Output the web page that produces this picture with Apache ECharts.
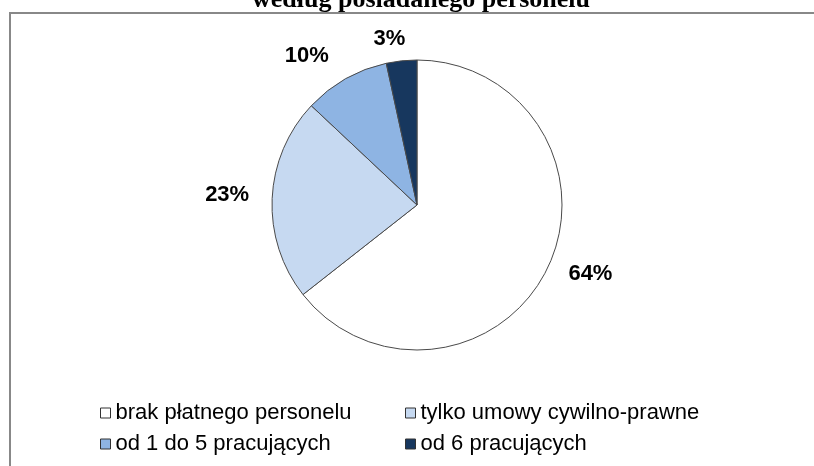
<!DOCTYPE html>
<html>
<head>
<meta charset="utf-8">
<script src="https://cdn.jsdelivr.net/npm/echarts@6/dist/echarts.min.js"></script>
<style>html,body{margin:0;padding:0;background:#fff;}#c{width:814px;height:466px;}</style>
</head>
<body>
<div id="c"></div>
<script>
const titleText = 'według posiadanego personelu';
const categories = ['brak płatnego personelu', 'tylko umowy cywilno-prawne', 'od 1 do 5 pracujących', 'od 6 pracujących'];
const values = [64.4, 22.6, 9.6, 3.4];
const colors = ['#FFFFFF', '#C6D9F1', '#8EB4E3', '#17375E'];
const labelOffsets = [[-2, -3], [2, -3], [-2, -5], [11, -2]];

const chart = echarts.init(document.getElementById('c'), null, {renderer: 'canvas'});
const data = categories.map((name, i) => ({
  name: name,
  value: values[i],
  itemStyle: {color: colors[i]},
  label: {offset: labelOffsets[i]}
}));
const legendFont = {fontFamily: "'Liberation Sans', Arial, sans-serif", fontSize: 22, color: '#000'};
const legendBase = {
  orient: 'vertical',
  top: 397,
  itemGap: 9,
  itemWidth: 10, itemHeight: 10,
  icon: 'rect',
  itemStyle: {borderColor: '#333', borderWidth: 1},
  textStyle: legendFont,
  selectedMode: false
};
chart.setOption({
  animation: false,
  backgroundColor: '#fff',
  graphic: [{
    type: 'rect',
    z: -1,
    shape: {x: 10, y: 13, width: 830, height: 500},
    style: {fill: '#fff', stroke: '#888888', lineWidth: 2}
  }],
  title: {
    text: titleText,
    left: 416,
    textAlign: 'center',
    top: -18,
    textStyle: {fontFamily: "'Liberation Serif', 'Times New Roman', serif", fontSize: 26, fontWeight: 'bold', color: '#000'}
  },
  legend: [
    Object.assign({data: [categories[0], categories[2]], left: 95}, legendBase),
    Object.assign({data: [categories[1], categories[3]], left: 400}, legendBase)
  ],
  series: [{
    type: 'pie',
    center: [417, 205],
    radius: 145,
    startAngle: 90,
    clockwise: true,
    avoidLabelOverlap: false,
    itemStyle: {borderColor: '#4a4a4a', borderWidth: 1},
    emphasis: {disabled: true},
    label: {
      show: true,
      position: 'outside',
      formatter: p => Math.round(p.value) + '%',
      fontFamily: "'Liberation Sans', Arial, sans-serif",
      fontSize: 22,
      fontWeight: 'bold',
      color: '#000'
    },
    labelLine: {show: false, length: 20, length2: 0},
    data: data
  }]
});
</script>
</body>
</html>
